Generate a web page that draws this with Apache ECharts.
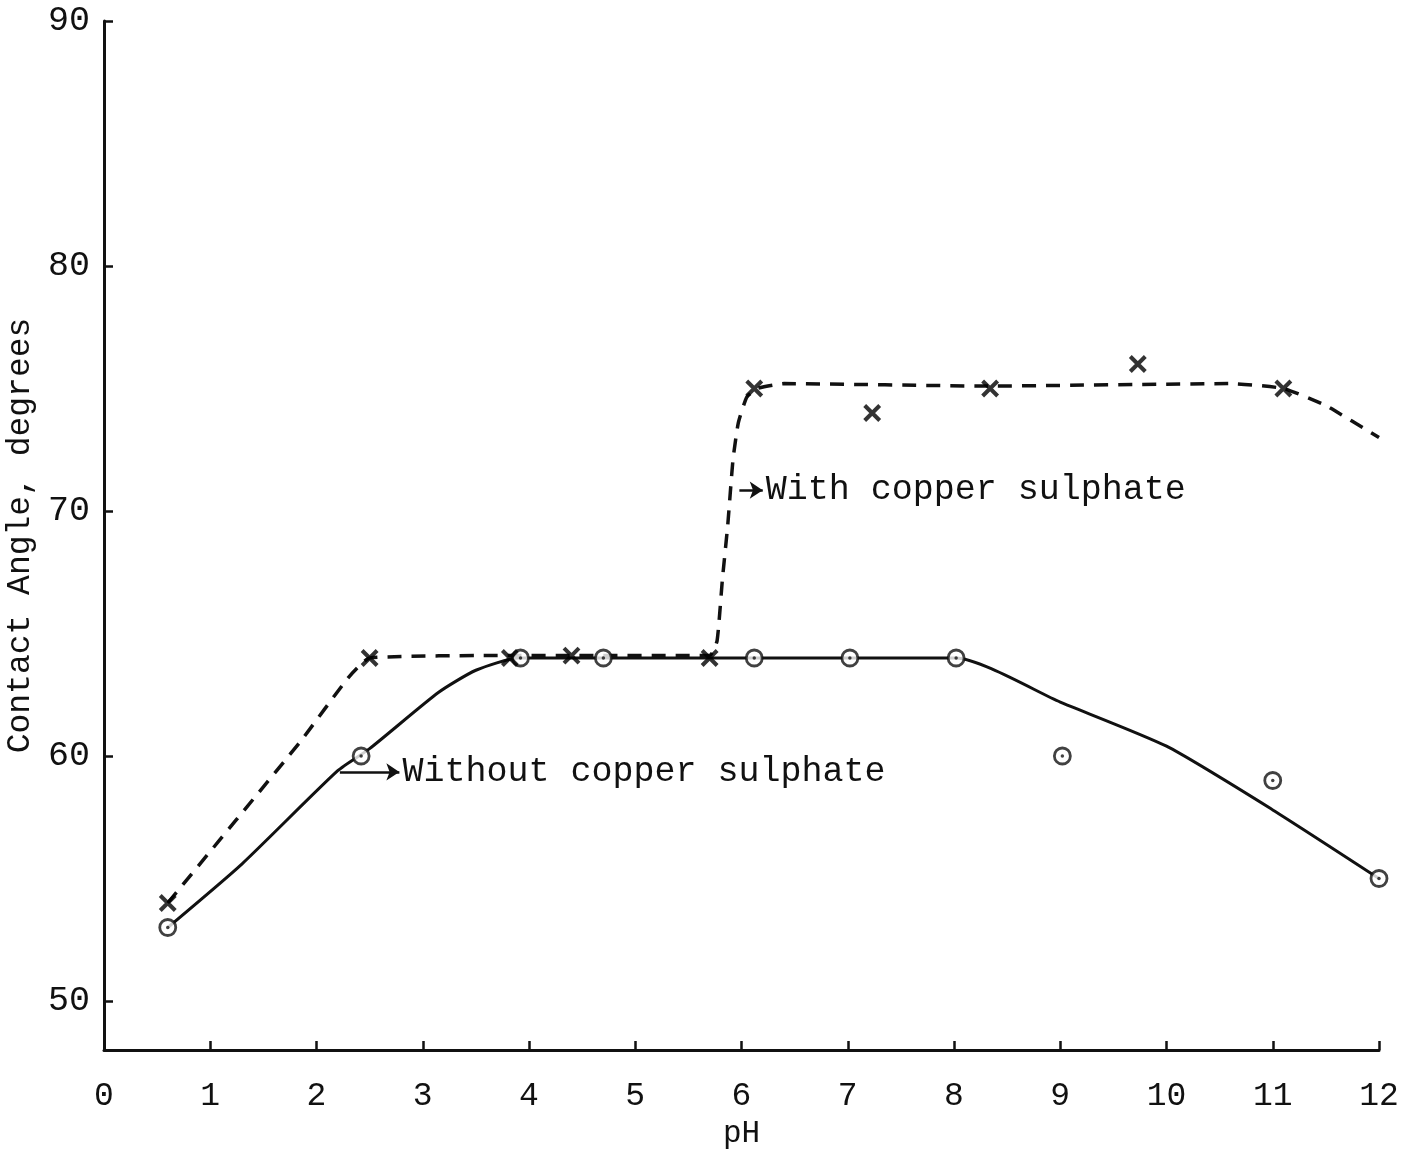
<!DOCTYPE html>
<html>
<head>
<meta charset="utf-8">
<script src="https://cdn.jsdelivr.net/npm/echarts@6/dist/echarts.min.js"></script>
<style>
  html, body { margin: 0; padding: 0; background: #fff; }
  #chart { width: 1417px; height: 1150px; }
</style>
</head>
<body>
<div id="chart"></div>
<script>
const withoutPoints = [[0.6, 53], [2.42, 60], [3.92, 64], [4.7, 64], [6.12, 64], [7.02, 64], [8.02, 64], [9.02, 60], [11.0, 59], [12.0, 55]];
const withPoints = [[0.6, 54], [2.5, 64], [3.82, 64], [4.4, 64.1], [5.7, 64], [6.12, 75], [7.23, 74], [8.34, 75], [9.73, 76], [11.1, 75], [12.02, 73]];

// hand-drawn curves through the points
const withoutCurve = [[0.6, 53], [1.3, 55.6], [2.2, 59.4], [2.5, 60.3], [3.15, 62.6], [3.5, 63.5], [3.9, 64], [8.02, 64], [9, 62.2], [10, 60.4], [11, 57.8], [12, 55]];
const withCurve = [[0.6, 54], [1.85, 60.6], [2.3, 63.2], [2.5, 64], [3.8, 64.1], [4.4, 64.1], [5.7, 64.1], [5.77, 64.7], [5.82, 67.2], [5.87, 69.4], [5.92, 72.1], [5.97, 73.6], [6.05, 74.65], [6.15, 75.0], [6.4, 75.2], [8.3, 75.1], [10.6, 75.2], [11.1, 75], [11.5, 74.3], [12, 73]];

const xTicks = [0, 1, 2, 3, 4, 5, 6, 7, 8, 9, 10, 11, 12];
const yTicks = [50, 60, 70, 80, 90];

// arrow notes: [start, end, text]
const withoutNote = [[2.22, 59.35], [2.78, 59.35], 'Without copper sulphate'];
const withNote = [[5.98, 70.85], [6.2, 70.85], 'With copper sulphate'];

const ink = '#111';
const mono = '"Liberation Mono", "DejaVu Sans Mono", monospace';
const crossPath = 'path://M0,0L10,10M10,0L0,10';

function note(n) {
  return {
    silent: true,
    symbol: ['none', 'arrow'],
    symbolSize: 13,
    lineStyle: { color: ink, width: 2.5, type: 'solid' },
    label: { show: true, position: 'end', distance: 3, formatter: n[2], color: ink, fontFamily: mono, fontSize: 35 },
    data: [[{ coord: n[0] }, { coord: n[1] }]]
  };
}

const chart = echarts.init(document.getElementById('chart'));

chart.setOption({
  animation: false,
  backgroundColor: '#fff',
  grid: { left: 104, right: 38, top: 21, bottom: 100, outerBoundsMode: 'none', containLabel: false },
  xAxis: {
    type: 'value',
    min: 0,
    max: 12,
    interval: 1,
    name: 'pH',
    nameLocation: 'middle',
    nameGap: 68,
    nameTextStyle: { color: ink, fontFamily: mono, fontSize: 31 },
    axisLine: { lineStyle: { color: ink, width: 3 } },
    axisTick: { inside: true, length: 9, lineStyle: { color: ink, width: 2.5 } },
    axisLabel: { margin: 30, color: ink, fontFamily: mono, fontSize: 33, formatter: v => xTicks.includes(v) ? String(v) : '' },
    splitLine: { show: false }
  },
  yAxis: {
    type: 'value',
    min: 48,
    max: 90,
    name: 'Contact Angle, degrees',
    nameLocation: 'middle',
    nameGap: 62,
    nameTextStyle: { color: ink, fontFamily: mono, fontSize: 33 },
    axisLine: { show: true, lineStyle: { color: ink, width: 3 } },
    axisTick: { show: true, inside: true, length: 9, customValues: yTicks, lineStyle: { color: ink, width: 2.5 } },
    axisLabel: { margin: 14, color: ink, fontFamily: mono, fontSize: 35, customValues: yTicks },
    splitLine: { show: false }
  },
  series: [
    {
      name: 'Without copper sulphate (curve)',
      type: 'line',
      data: withoutCurve,
      smooth: 0.2,
      showSymbol: false,
      lineStyle: { color: ink, width: 3 },
      markLine: note(withoutNote)
    },
    {
      name: 'With copper sulphate (curve)',
      type: 'line',
      data: withCurve,
      smooth: 0.15,
      showSymbol: false,
      lineStyle: { color: ink, width: 3.5, type: [14, 10] },
      markLine: note(withNote)
    },
    {
      name: 'Without copper sulphate',
      type: 'scatter',
      data: withoutPoints,
      symbol: 'circle',
      symbolSize: 16,
      itemStyle: { color: '#fff', borderColor: ink, borderWidth: 2.8 },
      z: 5
    },
    {
      name: 'Without copper sulphate (dot)',
      type: 'scatter',
      data: withoutPoints,
      symbol: 'circle',
      symbolSize: 3.5,
      itemStyle: { color: ink },
      z: 6
    },
    {
      name: 'With copper sulphate',
      type: 'scatter',
      data: withPoints,
      symbol: crossPath,
      symbolSize: 15,
      itemStyle: { color: 'none', borderColor: '#000', borderWidth: 4 },
      z: 7
    }
  ]
});
</script>
</body>
</html>
